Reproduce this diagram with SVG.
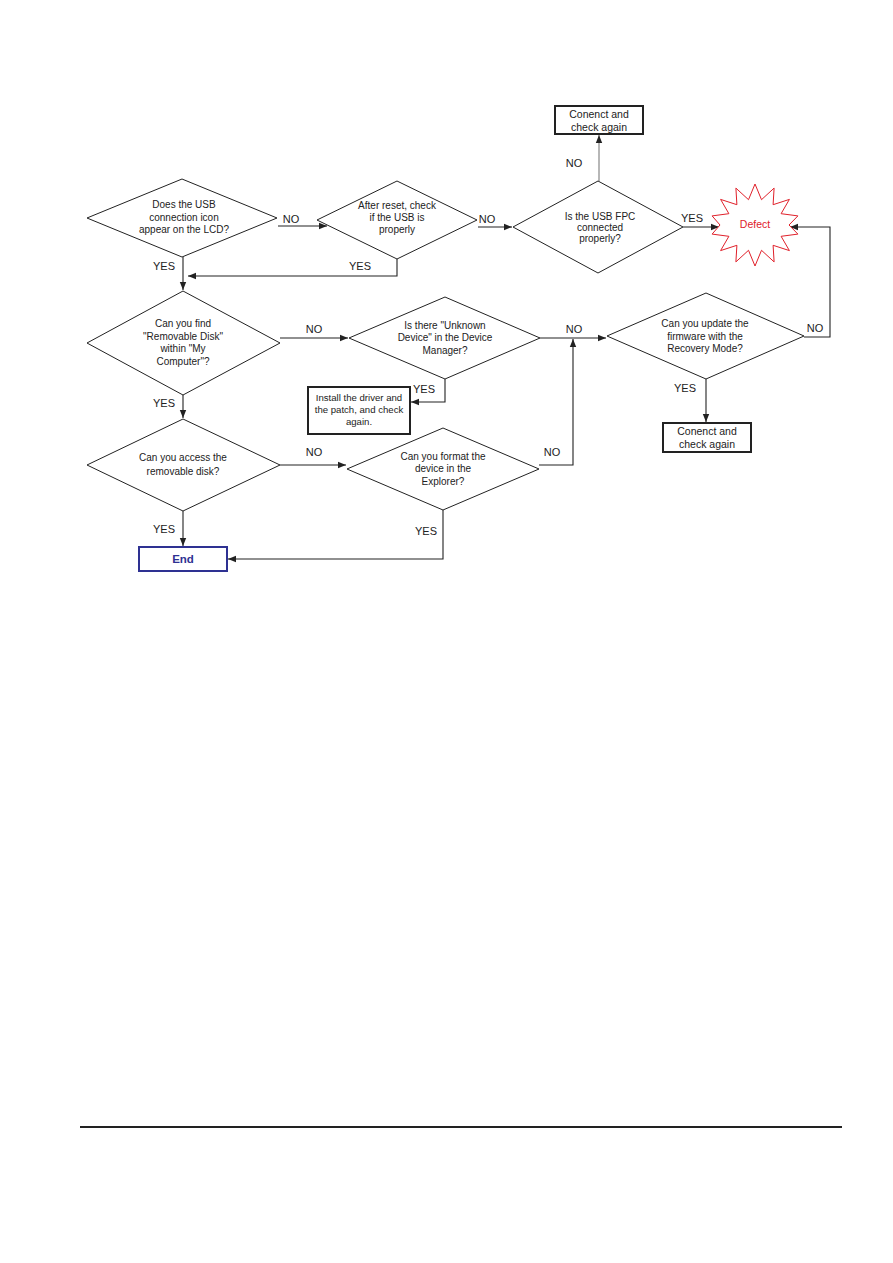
<svg xmlns="http://www.w3.org/2000/svg" width="893" height="1263" viewBox="0 0 893 1263">
<style>
.d{fill:#fff;stroke:#222;stroke-width:1}
.t{font-family:"Liberation Sans",Arial,sans-serif;font-size:10px;fill:#222;text-anchor:middle}
.l{font-family:"Liberation Sans",Arial,sans-serif;font-size:11px;fill:#222;text-anchor:middle}
.bt{font-family:"Liberation Sans",Arial,sans-serif;font-size:10.5px;fill:#222;text-anchor:middle}
.bs{font-family:"Liberation Sans",Arial,sans-serif;font-size:9.6px;fill:#222;text-anchor:middle}
.b{fill:#fff;stroke:#222;stroke-width:2}
.c{fill:none;stroke:#222;stroke-width:1.1;marker-end:url(#ah)}
.cg{fill:none;stroke:#999;stroke-width:1.4;marker-end:url(#ah)}
</style>
<defs>
<marker id="ah" viewBox="0 0 10 10" refX="10" refY="5" markerWidth="8" markerHeight="8" markerUnits="userSpaceOnUse" orient="auto">
<path d="M0 1 L10 5 L0 9 z" fill="#222"/>
</marker>
</defs>
<rect width="893" height="1263" fill="#fff"/>

<g id="connectors">
<path class="c" d="M278 226 H327"/>
<path class="c" d="M478 227 H512"/>
<path class="c" d="M397 259 V276 H188"/>
<path class="c" d="M183 257 V290"/>
<path class="cg" d="M599 181 V135"/>
<path class="c" d="M683 227 H719"/>
<path class="c" d="M280 338 H348"/>
<path class="c" d="M540 338 H606"/>
<path class="c" d="M445 379 V402 H411"/>
<path class="c" d="M804 337 H830 V227 H790"/>
<path class="c" d="M706 379 V422"/>
<path class="c" d="M183 395 V418"/>
<path class="c" d="M280 465 H346"/>
<path class="c" d="M539 465 H573 V339"/>
<path class="c" d="M443 510 V559 H228"/>
<path class="c" d="M183 511 V546"/>
</g>

<g id="labels">
<text class="l" x="291" y="223">NO</text>
<text class="l" x="487" y="223">NO</text>
<text class="l" x="360" y="270">YES</text>
<text class="l" x="164" y="270">YES</text>
<text class="l" x="574" y="167">NO</text>
<text class="l" x="692" y="222">YES</text>
<text class="l" x="314" y="333">NO</text>
<text class="l" x="574" y="333">NO</text>
<text class="l" x="424" y="393">YES</text>
<text class="l" x="815" y="332">NO</text>
<text class="l" x="685" y="392">YES</text>
<text class="l" x="164" y="407">YES</text>
<text class="l" x="314" y="456">NO</text>
<text class="l" x="552" y="456">NO</text>
<text class="l" x="426" y="535">YES</text>
<text class="l" x="164" y="533">YES</text>
</g>

<g id="q1">
<polygon class="d" points="87,218 182,179 277,218 182,257"/>
<text class="t" x="184" y="208">Does the USB</text>
<text class="t" x="184" y="221">connection icon</text>
<text class="t" x="184" y="233">appear on the LCD?</text>
</g>

<g id="q2">
<polygon class="d" points="317,220 397,181 477,220 397,259"/>
<text class="t" x="397" y="209">After reset, check</text>
<text class="t" x="397" y="221">if the USB is</text>
<text class="t" x="397" y="233">properly</text>
</g>

<g id="q3">
<polygon class="d" points="513,227 598,181 683,227 598,273"/>
<text class="t" x="600" y="220">Is the USB FPC</text>
<text class="t" x="600" y="231">connected</text>
<text class="t" x="600" y="242">properly?</text>
</g>

<g id="box-top">
<rect class="b" x="555" y="106" width="88" height="28"/>
<text class="bt" x="599" y="118">Conenct and</text>
<text class="bt" x="599" y="131">check again</text>
</g>

<g id="defect">
<polygon fill="#fff" stroke="#e0202a" stroke-width="1" points="755,184 761.5,199.7 774.1,188.1 773.1,204.7 789.4,199.4 781.1,213.7 797.9,215.9 789,225 797.9,234.1 781.1,236.3 789.4,250.6 773.1,245.3 774.1,261.9 761.5,250.3 755,266 748.5,250.3 735.9,261.9 736.9,245.3 720.6,250.6 728.9,236.3 712.1,234.1 720,225 712.1,215.9 728.9,213.7 720.6,199.4 736.9,204.7 735.9,188.1 748.5,199.7"/>
<text x="755" y="228" font-family="Liberation Sans, Arial, sans-serif" font-size="10.5" fill="#e0202a" text-anchor="middle">Defect</text>
</g>

<g id="q4">
<polygon class="d" points="87,343 183,291 280,343 183,395"/>
<text class="t" x="183" y="327">Can you find</text>
<text class="t" x="183" y="340">"Removable Disk"</text>
<text class="t" x="183" y="352">within "My</text>
<text class="t" x="183" y="365">Computer"?</text>
</g>

<g id="q5">
<polygon class="d" points="349,338 445,297 540,338 445,379"/>
<text class="t" x="445" y="329">Is there "Unknown</text>
<text class="t" x="445" y="341">Device" in the Device</text>
<text class="t" x="445" y="354">Manager?</text>
</g>

<g id="box-install">
<rect class="b" x="308" y="387" width="102" height="47" stroke-width="2.5"/>
<text class="bs" x="359" y="401">Install the driver and</text>
<text class="bs" x="359" y="413">the patch, and check</text>
<text class="bs" x="359" y="425">again.</text>
</g>

<g id="q6">
<polygon class="d" points="607,336 706,293 804,336 706,379"/>
<text class="t" x="705" y="327">Can you update the</text>
<text class="t" x="705" y="340">firmware with the</text>
<text class="t" x="705" y="352">Recovery Mode?</text>
</g>

<g id="box-recovery">
<rect class="b" x="663" y="423" width="88" height="29"/>
<text class="bt" x="707" y="435">Conenct and</text>
<text class="bt" x="707" y="448">check again</text>
</g>

<g id="q7">
<polygon class="d" points="87,465 183,419 280,465 183,511"/>
<text class="t" x="183" y="461">Can you access the</text>
<text class="t" x="183" y="475">removable disk?</text>
</g>

<g id="q8">
<polygon class="d" points="347,469 443,428 539,469 443,510"/>
<text class="t" x="443" y="460">Can you format the</text>
<text class="t" x="443" y="472">device in the</text>
<text class="t" x="443" y="485">Explorer?</text>
</g>

<g id="end">
<rect x="139" y="547" width="88" height="24" fill="#fff" stroke="#2e3192" stroke-width="2"/>
<text x="183" y="563" font-family="Liberation Sans, Arial, sans-serif" font-size="11.5" font-weight="bold" fill="#2e3192" text-anchor="middle">End</text>
</g>

<line x1="80" y1="1127" x2="842" y2="1127" stroke="#222" stroke-width="2"/>
</svg>
